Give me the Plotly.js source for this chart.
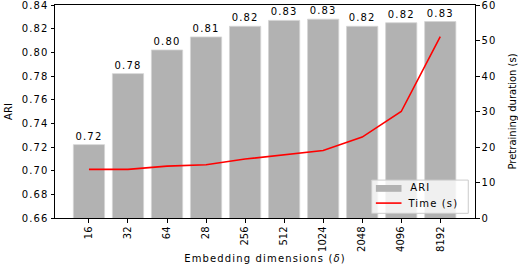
<!DOCTYPE html>
<html>
<head>
<meta charset="utf-8">
<script src="https://cdn.plot.ly/plotly-3.0.1.min.js"></script>
<style>
html,body{margin:0;padding:0;background:#fff;}
#chart{width:518px;height:266px;}
#chart text{letter-spacing:1.15px;}
#chart .xtick text, #chart .ytitle, #chart .y2title{letter-spacing:0;}
</style>
</head>
<body>
<div id="chart"></div>
<script>
var categories = ["16", "32", "64", "28", "256", "512", "1024", "2048", "4096", "8192"];
var ariValues = [0.722, 0.782, 0.802, 0.813, 0.822, 0.827, 0.828, 0.822, 0.825, 0.826];
var ariLabels = ["0.72", "0.78", "0.80", "0.81", "0.82", "0.83", "0.83", "0.82", "0.82", "0.83"];
var timeValues = [13.7, 13.7, 14.6, 15.0, 16.6, 17.8, 19.0, 22.8, 30.0, 51.1];
var leftTicks = [0.66, 0.68, 0.70, 0.72, 0.74, 0.76, 0.78, 0.80, 0.82, 0.84];
var leftTickText = ["0.66", "0.68", "0.70", "0.72", "0.74", "0.76", "0.78", "0.80", "0.82", "0.84"];
var rightTicks = [0, 10, 20, 30, 40, 50, 60];
var legendNames = ["ARI", "Time (s)"];

var font = {family: "DejaVu Sans, sans-serif", size: 10, color: "#000"};
var barColor = "#b2b2b2";
var lineColor = "#ff0000";

var traces = [
  {
    type: "bar",
    name: legendNames[0],
    x: categories,
    y: ariValues,
    text: ariLabels,
    textposition: "outside",
    textfont: font,
    cliponaxis: false,
    width: 0.8,
    marker: {color: barColor, line: {color: "#d4d4d4", width: 0.8}},
    yaxis: "y"
  },
  {
    type: "scatter",
    mode: "lines",
    name: legendNames[1],
    x: categories,
    y: timeValues,
    line: {color: lineColor, width: 1.6},
    yaxis: "y2"
  }
];

var axisCommon = {
  showgrid: false,
  zeroline: false,
  showline: true,
  linecolor: "#000",
  linewidth: 1,
  ticks: "outside",
  ticklen: 3.5,
  tickwidth: 1,
  tickcolor: "#000",
  tickfont: font,
  ticklabeloverflow: "allow"
};

var layout = {
  width: 518,
  height: 266,
  margin: {l: 55, r: 43, t: 5, b: 48},
  paper_bgcolor: "#fff",
  plot_bgcolor: "#fff",
  font: font,
  showlegend: false,
  xaxis: Object.assign({}, axisCommon, {
    type: "category",
    range: [-0.87, 9.89],
    mirror: true,
    tickangle: -90,
    title: {text: "Embedding dimensions (<i>δ</i>)", font: font, standoff: 4}
  }),
  yaxis: Object.assign({}, axisCommon, {
    range: [0.66, 0.84],
    tickvals: leftTicks,
    ticktext: leftTickText,
    title: {text: "ARI", font: font, standoff: 11}
  }),
  yaxis2: Object.assign({}, axisCommon, {
    overlaying: "y",
    side: "right",
    range: [0, 60],
    tickvals: rightTicks,
    title: {text: "Pretraining duration (s)", font: font, standoff: 16}
  }),
  shapes: [
    {type: "rect", xref: "paper", yref: "paper", x0: 0.754, x1: 0.984, y0: 0.022, y1: 0.178,
     fillcolor: "rgba(255,255,255,0.8)", line: {color: "#cccccc", width: 1}, layer: "above"},
    {type: "rect", xref: "paper", yref: "paper", x0: 0.764, x1: 0.825, y0: 0.123, y1: 0.155,
     fillcolor: barColor, line: {width: 0}, layer: "above"},
    {type: "line", xref: "paper", yref: "paper", x0: 0.764, x1: 0.825, y0: 0.070, y1: 0.070,
     line: {color: lineColor, width: 1.6}, layer: "above"}
  ],
  annotations: [
    {xref: "paper", yref: "paper", x: 0.846, y: 0.141, xanchor: "left", yanchor: "middle",
     text: legendNames[0], showarrow: false, font: font},
    {xref: "paper", yref: "paper", x: 0.846, y: 0.070, xanchor: "left", yanchor: "middle",
     text: legendNames[1], showarrow: false, font: font}
  ]
};

Plotly.newPlot("chart", traces, layout, {displayModeBar: false, staticPlot: true});
</script>
</body>
</html>
